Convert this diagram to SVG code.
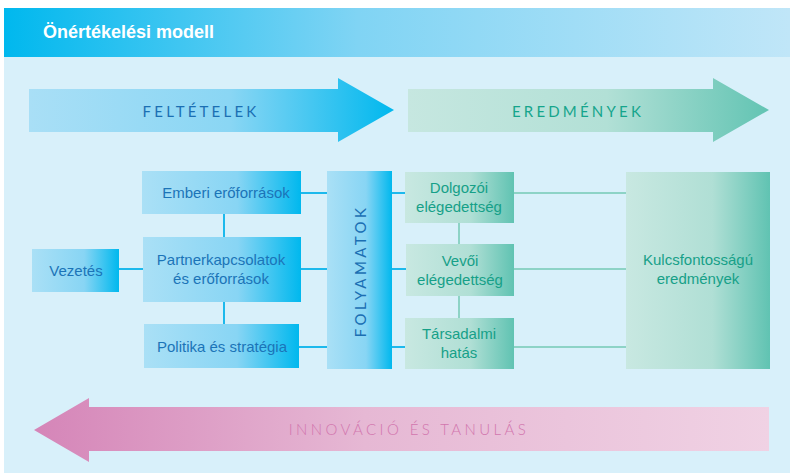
<svg xmlns="http://www.w3.org/2000/svg" width="790" height="473" viewBox="0 0 790 473">
<defs>
<linearGradient id="gHead" x1="0" y1="0" x2="1" y2="0">
<stop offset="0" stop-color="#00b8ee"/><stop offset="0.45" stop-color="#80d4f4"/><stop offset="1" stop-color="#c0e6f8"/>
</linearGradient>
<linearGradient id="gBlueArrow" x1="0" y1="0" x2="1" y2="0">
<stop offset="0" stop-color="#a9dff6"/><stop offset="0.55" stop-color="#8ad6f4"/><stop offset="1" stop-color="#00b8ee"/>
</linearGradient>
<linearGradient id="gTealArrow" x1="0" y1="0" x2="1" y2="0">
<stop offset="0" stop-color="#c6e7e0"/><stop offset="0.55" stop-color="#b2e0d6"/><stop offset="1" stop-color="#62c4b3"/>
</linearGradient>
<linearGradient id="gPinkArrow" x1="0" y1="0" x2="1" y2="0">
<stop offset="0" stop-color="#d585b8"/><stop offset="0.45" stop-color="#e6b8d4"/><stop offset="1" stop-color="#f0d2e4"/>
</linearGradient>
<linearGradient id="gBlue" x1="0" y1="0" x2="1" y2="0">
<stop offset="0" stop-color="#aae0f6"/><stop offset="0.6" stop-color="#88d5f4"/><stop offset="1" stop-color="#00b8ee"/>
</linearGradient>
<linearGradient id="gTeal" x1="0" y1="0" x2="1" y2="0">
<stop offset="0" stop-color="#c8e8e1"/><stop offset="0.6" stop-color="#b0dfd5"/><stop offset="1" stop-color="#60c3b2"/>
</linearGradient>
</defs>
<style>
.bn{fill:url(#gBlue)}
.tn{fill:url(#gTeal)}
.bt{font-family:"Liberation Sans",Arial,sans-serif;font-size:15px;fill:#1b74b8;text-anchor:middle}
.tt{font-family:"Liberation Sans",Arial,sans-serif;font-size:15px;fill:#16a088;text-anchor:middle}
.bl{stroke:#1db9ec;stroke-width:2;fill:none}
.tl{stroke:#8dd3c6;stroke-width:2;fill:none}
.big{font-family:Lato,"Open Sans",sans-serif;font-size:15px;letter-spacing:3.2px;text-anchor:middle}
</style>
<rect x="0" y="0" width="790" height="473" fill="#ffffff"/>
<rect x="4" y="8" width="786" height="465" fill="#d8f0fa"/>
<rect x="4" y="8" width="786" height="49" fill="url(#gHead)"/>
<text x="43" y="38" font-family="Liberation Sans,Arial,sans-serif" font-size="18" font-weight="bold" fill="#ffffff">Önértékelési modell</text>

<g id="arrow-feltetelek">
<path d="M29,89 H338 V78 L394,110 L338,142 V132 H29 Z" fill="url(#gBlueArrow)"/>
<text class="big" x="201" y="117" fill="#1b6fb3">FELTÉTELEK</text>
</g>
<g id="arrow-eredmenyek">
<path d="M408,89 H713 V78 L769,110 L713,142 V132 H408 Z" fill="url(#gTealArrow)"/>
<text class="big" x="578" y="117" fill="#15a58c">EREDMÉNYEK</text>
</g>
<g id="arrow-innovacio">
<path d="M769,407 H89 V398 L34,430 L89,462 V451 H769 Z" fill="url(#gPinkArrow)"/>
<text class="big" x="409" y="435" fill="#d276ae" font-weight="300" style="letter-spacing:3.4px">INNOVÁCIÓ ÉS TANULÁS</text>
</g>

<g id="connectors">
<line class="bl" x1="119" y1="269" x2="143" y2="269"/>
<line class="bl" x1="224" y1="214" x2="224" y2="237"/>
<line class="bl" x1="224" y1="302" x2="224" y2="324"/>
<line class="bl" x1="301" y1="193" x2="327" y2="193"/>
<line class="bl" x1="301" y1="269" x2="327" y2="269"/>
<line class="bl" x1="299" y1="347" x2="327" y2="347"/>
<line class="bl" x1="392" y1="193" x2="405" y2="193"/>
<line class="bl" x1="392" y1="269" x2="406" y2="269"/>
<line class="bl" x1="392" y1="347" x2="405" y2="347"/>
<line class="tl" x1="459" y1="223" x2="459" y2="244"/>
<line class="tl" x1="459" y1="296" x2="459" y2="318"/>
<line class="tl" x1="514" y1="193" x2="626" y2="193"/>
<line class="tl" x1="514" y1="269" x2="626" y2="269"/>
<line class="tl" x1="514" y1="347" x2="626" y2="347"/>
</g>

<g id="vezetes">
<rect class="bn" x="32" y="249" width="87" height="43"/>
<text class="bt" x="76" y="276">Vezetés</text>
</g>
<g id="emberi">
<rect class="bn" x="142" y="171" width="159" height="43"/>
<text class="bt" x="226" y="198">Emberi erőforrások</text>
</g>
<g id="partner">
<rect class="bn" x="143" y="237" width="158" height="65"/>
<text class="bt" x="221" y="265">Partnerkapcsolatok</text>
<text class="bt" x="221" y="284">és erőforrások</text>
</g>
<g id="politika">
<rect class="bn" x="144" y="324" width="155" height="44"/>
<text class="bt" x="222" y="352">Politika és stratégia</text>
</g>
<g id="folyamatok">
<rect class="bn" x="327" y="171" width="65" height="198"/>
<text class="big" transform="translate(366,271) rotate(-90)" x="0" y="0" fill="#1b6fb3" style="letter-spacing:3.4px">FOLYAMATOK</text>
</g>
<g id="dolgozoi">
<rect class="tn" x="405" y="172" width="109" height="51"/>
<text class="tt" x="459" y="193">Dolgozói</text>
<text class="tt" x="459" y="212">elégedettség</text>
</g>
<g id="vevoi">
<rect class="tn" x="406" y="244" width="108" height="52"/>
<text class="tt" x="460" y="266">Vevői</text>
<text class="tt" x="460" y="285">elégedettség</text>
</g>
<g id="tarsadalmi">
<rect class="tn" x="405" y="318" width="109" height="51"/>
<text class="tt" x="459" y="339">Társadalmi</text>
<text class="tt" x="459" y="358">hatás</text>
</g>
<g id="kulcs">
<rect class="tn" x="626" y="172" width="144" height="197"/>
<text class="tt" x="698" y="265">Kulcsfontosságú</text>
<text class="tt" x="698" y="284">eredmények</text>
</g>
</svg>
